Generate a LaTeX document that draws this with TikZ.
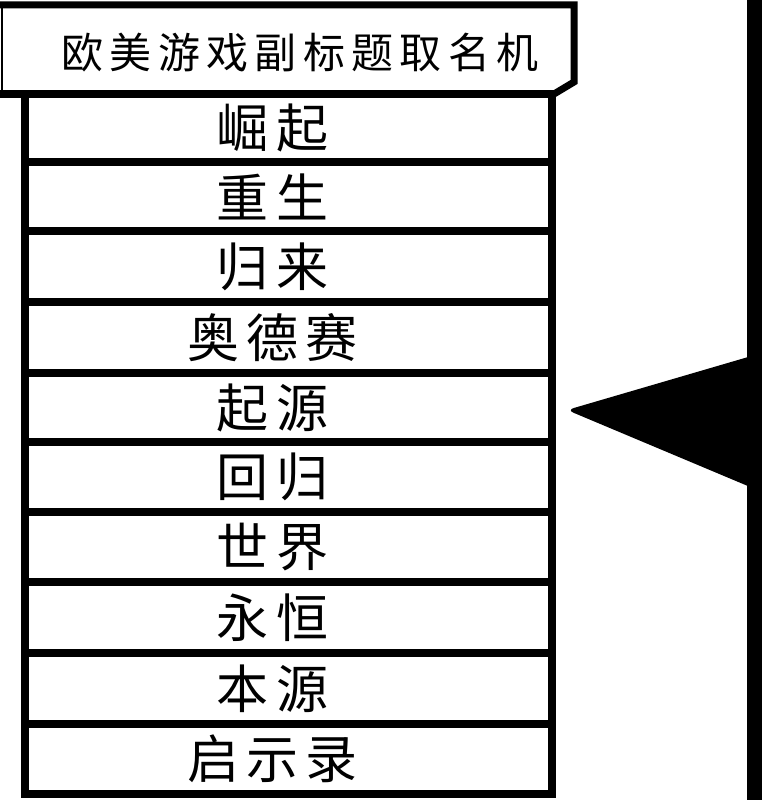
\documentclass[tikz,border=0pt]{standalone}
\usepackage{fontspec}
\newfontfamily\cjktitle[LetterSpace=15]{Noto Sans CJK SC}
\newfontfamily\cjkrow[LetterSpace=14]{Noto Sans CJK SC}
\tikzset{
  rowbox/.style={draw, line width=8pt, minimum width=527pt, inner sep=0pt, outer sep=0pt},
  rowtext/.style={inner sep=0pt, font=\cjkrow\fontsize{52pt}{54pt}\selectfont},
  titletext/.style={inner sep=0pt, font=\cjktitle\fontsize{42pt}{44pt}\selectfont}
}
\begin{document}
\begin{tikzpicture}[x=1pt,y=-1pt]
\useasboundingbox (0,0) rectangle (764,800);
\fill[white] (0,0) rectangle (764,800);
% title box
\draw[line width=2pt] (2,94) -- (2,5);
\draw[line width=7pt, line join=miter] (0,5) -- (574,5) -- (574,82) -- (554,94);
\draw[line width=8pt] (0,94) -- (556,94);
\node[titletext] (title) at (300,53) {欧美游戏副标题取名机};
% rows
\foreach \t/\b/\s [count=\i] in {94/162/崛起,162/231/重生,231/302/归来,302/373/奥德赛,373/442/起源,442/512/回归,512/582/世界,582/653/永恒,653/724/本源,724/794/启示录}{
  \node[rowbox, minimum height={\b-\t}] (r\i) at (288.5,{(\t+\b)/2}) {};
  \node[rowtext] (l\i) at ([xshift=-16pt]r\i.center) {\s};
}
% pointer bar
\fill (747,0) rectangle (762,800);
\fill[rounded corners=7pt] (755,355) -- (567,410) -- (755,489) -- cycle;
\end{tikzpicture}
\end{document}
